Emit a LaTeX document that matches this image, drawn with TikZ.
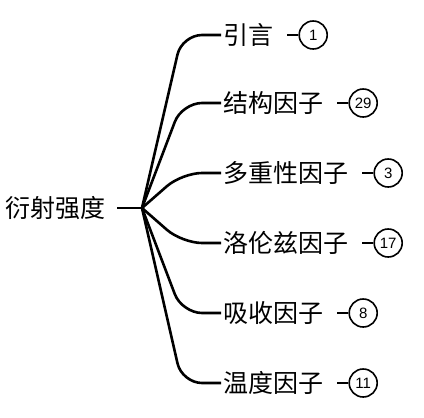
\documentclass[tikz,border=0pt]{standalone}
\usepackage{fontspec}
\setmainfont{Noto Sans CJK SC}
\newfontfamily\numfont{Liberation Sans}
\usepackage{tikz}
\usetikzlibrary{positioning,calc}

\tikzset{
    topic/.style={inner sep=2pt, font=\fontsize{25}{28}\selectfont},
    count/.style={circle, draw, line width=1.6pt, minimum size=28pt, inner sep=0pt, font=\numfont\fontsize{15}{17}\selectfont},
    branch/.style={line width=2.6pt, rounded corners=20pt},
    stub/.style={line width=2.6pt}
}

\begin{document}
\begin{tikzpicture}[x=1pt, y=-1pt, node distance=23pt]
    \useasboundingbox (0,0) rectangle (424,418);
    \node[topic, anchor=east] (root) at (108,208) {衍射强度};
    \coordinate (hub) at (142,208);
    \draw[stub] ([xshift=9pt]root.east) -- (hub);
    % topics
    \node[topic, anchor=west] (intro) at (221,35) {引言};
    \node[topic, anchor=west] (struct) at (221,103) {结构因子};
    \node[topic, anchor=west] (multi) at (221,173) {多重性因子};
    \node[topic, anchor=west] (lorentz) at (221,243) {洛伦兹因子};
    \node[topic, anchor=west] (absorb) at (221,313) {吸收因子};
    \node[topic, anchor=west] (temp) at (221,383) {温度因子};
    % counts
    \foreach \name/\num in {intro/1, struct/29, multi/3, lorentz/17, absorb/8, temp/11} {
        \node[count, right=of \name] (\name-n) {\num};
        \draw[stub] ([xshift=12pt]\name.east) -- (\name-n);
        \draw[branch] (hub) -- (\name.west -| 182,0) -- (\name.west);
    }
\end{tikzpicture}
\end{document}
